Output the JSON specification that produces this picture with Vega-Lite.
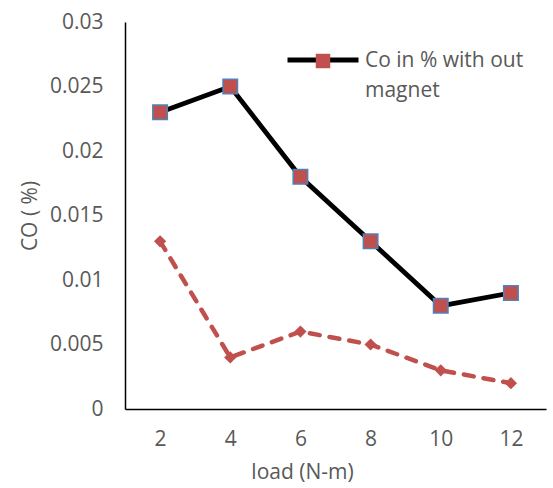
{
  "$schema": "https://vega.github.io/schema/vega-lite/v6.json",
  "width": 421,
  "height": 387,
  "autosize": {"type": "none"},
  "padding": {"left": 125, "top": 22, "right": 7, "bottom": 79},
  "background": "white",
  "config": {
    "view": {"stroke": null},
    "font": "Open Sans",
    "axis": {"labelFont": "Open Sans", "titleFont": "Open Sans", "labelColor": "#595959", "titleColor": "#595959", "labelFontSize": 21, "titleFontSize": 21, "titleFontWeight": "normal", "grid": false, "ticks": false, "domainColor": "#000000", "domainWidth": 1.5}
  },
  "data": {
    "values": [
      {"load": 2, "series": "without", "co": 0.023},
      {"load": 4, "series": "without", "co": 0.025},
      {"load": 6, "series": "without", "co": 0.018},
      {"load": 8, "series": "without", "co": 0.013},
      {"load": 10, "series": "without", "co": 0.008},
      {"load": 12, "series": "without", "co": 0.009},
      {"load": 2, "series": "with", "co": 0.013},
      {"load": 4, "series": "with", "co": 0.004},
      {"load": 6, "series": "with", "co": 0.006},
      {"load": 8, "series": "with", "co": 0.005},
      {"load": 10, "series": "with", "co": 0.003},
      {"load": 12, "series": "with", "co": 0.002}
    ]
  },
  "encoding": {
    "x": {"field": "load", "type": "ordinal", "scale": {"type": "point", "padding": 0.5},
      "axis": {"title": "load (N-m)", "labelAngle": 0, "labelPadding": 19, "titlePadding": 12, "titleX": 177}},
    "y": {"field": "co", "type": "quantitative", "scale": {"domain": [0, 0.03], "nice": false},
      "axis": {"title": "CO ( %)", "values": [0, 0.005, 0.01, 0.015, 0.02, 0.025, 0.03], "format": ".3~f", "labelPadding": 22, "titlePadding": 9}}
  },
  "layer": [
    {
      "transform": [{"filter": "datum.series === 'with'"}],
      "mark": {"type": "line", "stroke": "#C0504D", "strokeWidth": 4.5, "strokeDash": [10, 10], "strokeCap": "round"},
      "encoding": {}
    },
    {
      "transform": [{"filter": "datum.series === 'with'"}],
      "mark": {"type": "point", "shape": "diamond", "filled": true, "fill": "#C0504D", "opacity": 1, "size": 150}
    },
    {
      "transform": [{"filter": "datum.series === 'without'"}],
      "mark": {"type": "line", "strokeWidth": 4.8},
      "encoding": {
        "color": {"datum": "Co in % with out magnet", "scale": {"range": ["#000000"]},
          "legend": {"title": null, "orient": "none", "legendX": 160, "legendY": 0, "symbolType": "stroke", "symbolSize": 5041, "symbolStrokeWidth": 4.8, "symbolStrokeColor": "#000000",
            "labelFont": "Open Sans", "labelFontSize": 21, "labelColor": "#595959", "labelOffset": 4, "labelLimit": 300,
            "labelExpr": "['Co in % with out', 'magnet']", "labelBaseline": "top",
            "encode": {"labels": {"update": {"lineHeight": {"value": 30}, "dy": {"value": -10}}}}}}
      }
    },
    {
      "transform": [{"filter": "datum.series === 'without'"}],
      "mark": {"type": "point", "filled": true, "fill": "#C0504D", "stroke": "#4F81BD", "strokeWidth": 1.5, "opacity": 1, "size": 210},
      "encoding": {
        "shape": {"datum": "Co in % with out magnet ", "scale": {"range": ["square"]},
          "legend": {"title": null, "orient": "none", "legendX": 190, "legendY": 31, "symbolSize": 210, "symbolFillColor": "#C0504D", "symbolStrokeColor": "#4F81BD", "symbolStrokeWidth": 1.5, "symbolOpacity": 1, "labelExpr": "''"}}
      }
    }
  ]
}
